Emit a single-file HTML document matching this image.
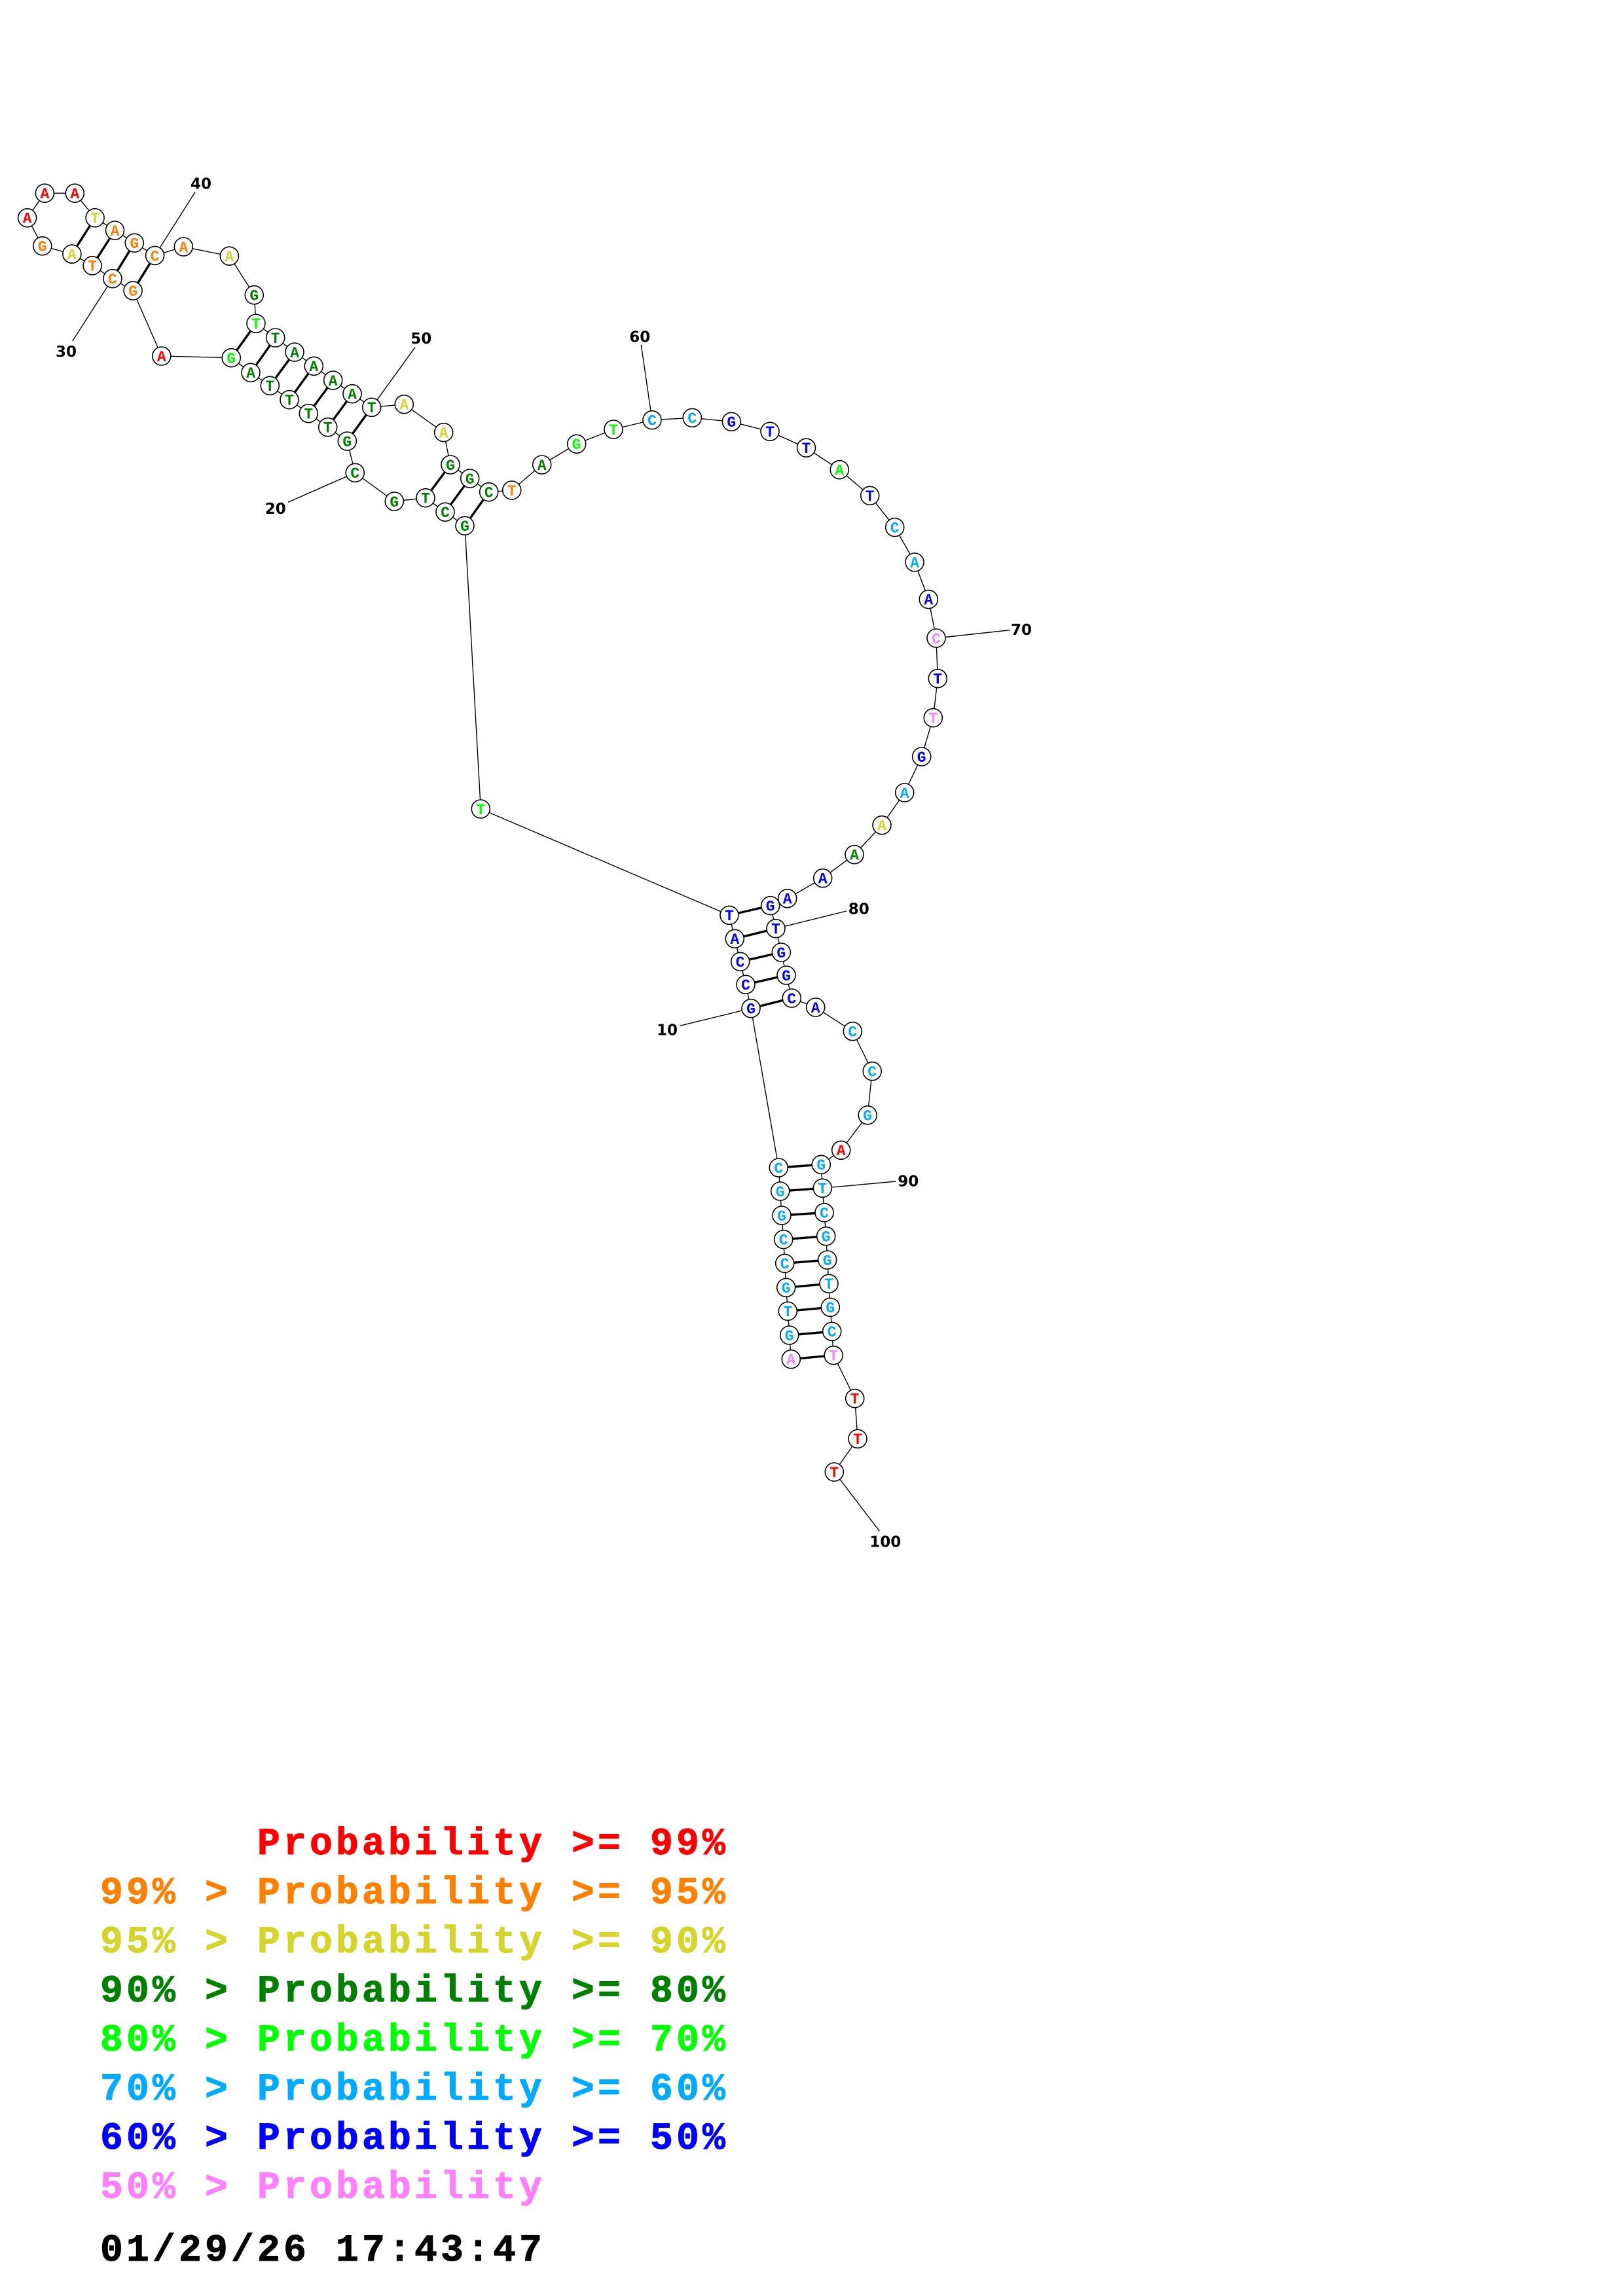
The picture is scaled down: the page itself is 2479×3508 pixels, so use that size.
<!DOCTYPE html>
<html>
<head>
<meta charset="utf-8">
<style>
html,body{margin:0;padding:0;background:#fff;}
svg{display:block;}
.nt text{font-family:"Liberation Mono","DejaVu Sans Mono",monospace;font-weight:bold;font-size:23px;text-anchor:middle;}
.lbl text{font-family:"DejaVu Sans","Liberation Sans",sans-serif;font-weight:bold;font-size:23px;text-anchor:middle;fill:#000;}
.leg text{font-family:"Liberation Mono","DejaVu Sans Mono",monospace;font-weight:bold;font-size:58px;letter-spacing:5.2px;stroke-width:1px;}
</style>
</head>
<body>
<svg xmlns="http://www.w3.org/2000/svg" width="2479" height="3508" viewBox="0 0 2479 3508">
<rect width="2479" height="3508" fill="#fff"/>
<!-- backbone -->
<polyline fill="none" stroke="#000" stroke-width="1.4" points="1208.3,2076.7 1205.7,2040 1203.3,2003.3 1200.7,1967.3 1198.7,1930.3 1196.7,1893.7 1194,1857 1191.7,1820 1189.3,1784 1147,1540.7 1139,1504.3 1130.7,1469.3 1122.3,1434.3 1114,1398.3 734.3,1236 710,803.3 680,782.3 650,760.7 602.3,766 542.3,722.3 530.3,674 500.7,652.7 471.3,631.7 442,610.7 412.3,589.3 383,569.3 353.3,546.7 246.8,544 203.1,444.2 171.9,425.7 141.1,405.8 109.9,388.1 64.8,375.8 41.6,332.8 68.4,295.2 114.3,295.2 145.1,332.8 175.5,352 205.3,371.2 236.6,390.4 280.3,377 350.4,391.2 388.3,450.7 391,494.3 420.7,516 450,538 479.3,559.3 508.7,581 538,601.7 567.7,622.3 617.3,617.7 677.7,660.7 688,710 717.7,731 746.7,751.7 781.7,749 827.7,710 880.7,678.3 937,656 996,641.7 1057.3,638.3 1117.3,644.3 1176,659.3 1231.5,684.2 1282.3,717.7 1328.7,757.3 1366.7,805.7 1397,859 1418.3,915.7 1430,975 1432.3,1036.7 1425.3,1096.7 1407.7,1156 1381.7,1211 1347,1260.7 1305,1305.7 1256.7,1341.7 1202.7,1372.7 1176.7,1383.7 1185,1418.7 1193.3,1455 1201,1490 1209.3,1525 1245.7,1539 1302.3,1575.7 1332.2,1636.7 1325.2,1703.8 1284.7,1757.3 1254.3,1779.3 1256.3,1815.3 1259,1852.7 1261.7,1888.7 1263.7,1925 1266,1961.3 1268.3,1997.3 1270.7,2034.3 1273.2,2070.7 1305.7,2136.7 1310,2198.3 1274.3,2249"/>
<!-- label leader lines -->
<g stroke="#000" stroke-width="1.4">
<line x1="236.6" y1="390.4" x2="298.2" y2="293.3"/>
<line x1="171.9" y1="425.7" x2="110.8" y2="521"/>
<line x1="542.3" y1="722.3" x2="440" y2="767.3"/>
<line x1="567.7" y1="622.3" x2="634" y2="530.7"/>
<line x1="996" y1="641.7" x2="979.3" y2="526.7"/>
<line x1="1430" y1="975" x2="1542.7" y2="962.7"/>
<line x1="1185" y1="1418.7" x2="1293" y2="1392"/>
<line x1="1147" y1="1540.7" x2="1038.3" y2="1567.3"/>
<line x1="1256.3" y1="1815.3" x2="1368.3" y2="1805"/>
<line x1="1274.3" y1="2249" x2="1343.3" y2="2339.3"/>
</g>
<!-- base pairs -->
<g stroke="#000" stroke-width="3.4">
<line x1="1208.3" y1="2076.7" x2="1273.2" y2="2070.7"/>
<line x1="1205.7" y1="2040" x2="1270.7" y2="2034.3"/>
<line x1="1203.3" y1="2003.3" x2="1268.3" y2="1997.3"/>
<line x1="1200.7" y1="1967.3" x2="1266" y2="1961.3"/>
<line x1="1198.7" y1="1930.3" x2="1263.7" y2="1925"/>
<line x1="1196.7" y1="1893.7" x2="1261.7" y2="1888.7"/>
<line x1="1194" y1="1857" x2="1259" y2="1852.7"/>
<line x1="1191.7" y1="1820" x2="1256.3" y2="1815.3"/>
<line x1="1189.3" y1="1784" x2="1254.3" y2="1779.3"/>
<line x1="1147" y1="1540.7" x2="1209.3" y2="1525"/>
<line x1="1139" y1="1504.3" x2="1201" y2="1490"/>
<line x1="1130.7" y1="1469.3" x2="1193.3" y2="1455"/>
<line x1="1122.3" y1="1434.3" x2="1185" y2="1418.7"/>
<line x1="1114" y1="1398.3" x2="1176.7" y2="1383.7"/>
<line x1="710" y1="803.3" x2="746.7" y2="751.7"/>
<line x1="680" y1="782.3" x2="717.7" y2="731"/>
<line x1="650" y1="760.7" x2="688" y2="710"/>
<line x1="530.3" y1="674" x2="567.7" y2="622.3"/>
<line x1="500.7" y1="652.7" x2="538" y2="601.7"/>
<line x1="471.3" y1="631.7" x2="508.7" y2="581"/>
<line x1="442" y1="610.7" x2="479.3" y2="559.3"/>
<line x1="412.3" y1="589.3" x2="450" y2="538"/>
<line x1="383" y1="569.3" x2="420.7" y2="516"/>
<line x1="353.3" y1="546.7" x2="391" y2="494.3"/>
<line x1="203.1" y1="444.2" x2="236.6" y2="390.4"/>
<line x1="171.9" y1="425.7" x2="205.3" y2="371.2"/>
<line x1="141.1" y1="405.8" x2="175.5" y2="352"/>
<line x1="109.9" y1="388.1" x2="145.1" y2="332.8"/>
</g>
<!-- nucleotide circles -->
<g fill="#fff" stroke="#000" stroke-width="1.6">
<circle cx="1208.3" cy="2076.7" r="14"/>
<circle cx="1205.7" cy="2040" r="14"/>
<circle cx="1203.3" cy="2003.3" r="14"/>
<circle cx="1200.7" cy="1967.3" r="14"/>
<circle cx="1198.7" cy="1930.3" r="14"/>
<circle cx="1196.7" cy="1893.7" r="14"/>
<circle cx="1194" cy="1857" r="14"/>
<circle cx="1191.7" cy="1820" r="14"/>
<circle cx="1189.3" cy="1784" r="14"/>
<circle cx="1147" cy="1540.7" r="14"/>
<circle cx="1139" cy="1504.3" r="14"/>
<circle cx="1130.7" cy="1469.3" r="14"/>
<circle cx="1122.3" cy="1434.3" r="14"/>
<circle cx="1114" cy="1398.3" r="14"/>
<circle cx="734.3" cy="1236" r="14"/>
<circle cx="710" cy="803.3" r="14"/>
<circle cx="680" cy="782.3" r="14"/>
<circle cx="650" cy="760.7" r="14"/>
<circle cx="602.3" cy="766" r="14"/>
<circle cx="542.3" cy="722.3" r="14"/>
<circle cx="530.3" cy="674" r="14"/>
<circle cx="500.7" cy="652.7" r="14"/>
<circle cx="471.3" cy="631.7" r="14"/>
<circle cx="442" cy="610.7" r="14"/>
<circle cx="412.3" cy="589.3" r="14"/>
<circle cx="383" cy="569.3" r="14"/>
<circle cx="353.3" cy="546.7" r="14"/>
<circle cx="246.8" cy="544" r="14"/>
<circle cx="203.1" cy="444.2" r="14"/>
<circle cx="171.9" cy="425.7" r="14"/>
<circle cx="141.1" cy="405.8" r="14"/>
<circle cx="109.9" cy="388.1" r="14"/>
<circle cx="64.8" cy="375.8" r="14"/>
<circle cx="41.6" cy="332.8" r="14"/>
<circle cx="68.4" cy="295.2" r="14"/>
<circle cx="114.3" cy="295.2" r="14"/>
<circle cx="145.1" cy="332.8" r="14"/>
<circle cx="175.5" cy="352" r="14"/>
<circle cx="205.3" cy="371.2" r="14"/>
<circle cx="236.6" cy="390.4" r="14"/>
<circle cx="280.3" cy="377" r="14"/>
<circle cx="350.4" cy="391.2" r="14"/>
<circle cx="388.3" cy="450.7" r="14"/>
<circle cx="391" cy="494.3" r="14"/>
<circle cx="420.7" cy="516" r="14"/>
<circle cx="450" cy="538" r="14"/>
<circle cx="479.3" cy="559.3" r="14"/>
<circle cx="508.7" cy="581" r="14"/>
<circle cx="538" cy="601.7" r="14"/>
<circle cx="567.7" cy="622.3" r="14"/>
<circle cx="617.3" cy="617.7" r="14"/>
<circle cx="677.7" cy="660.7" r="14"/>
<circle cx="688" cy="710" r="14"/>
<circle cx="717.7" cy="731" r="14"/>
<circle cx="746.7" cy="751.7" r="14"/>
<circle cx="781.7" cy="749" r="14"/>
<circle cx="827.7" cy="710" r="14"/>
<circle cx="880.7" cy="678.3" r="14"/>
<circle cx="937" cy="656" r="14"/>
<circle cx="996" cy="641.7" r="14"/>
<circle cx="1057.3" cy="638.3" r="14"/>
<circle cx="1117.3" cy="644.3" r="14"/>
<circle cx="1176" cy="659.3" r="14"/>
<circle cx="1231.5" cy="684.2" r="14"/>
<circle cx="1282.3" cy="717.7" r="14"/>
<circle cx="1328.7" cy="757.3" r="14"/>
<circle cx="1366.7" cy="805.7" r="14"/>
<circle cx="1397" cy="859" r="14"/>
<circle cx="1418.3" cy="915.7" r="14"/>
<circle cx="1430" cy="975" r="14"/>
<circle cx="1432.3" cy="1036.7" r="14"/>
<circle cx="1425.3" cy="1096.7" r="14"/>
<circle cx="1407.7" cy="1156" r="14"/>
<circle cx="1381.7" cy="1211" r="14"/>
<circle cx="1347" cy="1260.7" r="14"/>
<circle cx="1305" cy="1305.7" r="14"/>
<circle cx="1256.7" cy="1341.7" r="14"/>
<circle cx="1202.7" cy="1372.7" r="14"/>
<circle cx="1176.7" cy="1383.7" r="14"/>
<circle cx="1185" cy="1418.7" r="14"/>
<circle cx="1193.3" cy="1455" r="14"/>
<circle cx="1201" cy="1490" r="14"/>
<circle cx="1209.3" cy="1525" r="14"/>
<circle cx="1245.7" cy="1539" r="14"/>
<circle cx="1302.3" cy="1575.7" r="14"/>
<circle cx="1332.2" cy="1636.7" r="14"/>
<circle cx="1325.2" cy="1703.8" r="14"/>
<circle cx="1284.7" cy="1757.3" r="14"/>
<circle cx="1254.3" cy="1779.3" r="14"/>
<circle cx="1256.3" cy="1815.3" r="14"/>
<circle cx="1259" cy="1852.7" r="14"/>
<circle cx="1261.7" cy="1888.7" r="14"/>
<circle cx="1263.7" cy="1925" r="14"/>
<circle cx="1266" cy="1961.3" r="14"/>
<circle cx="1268.3" cy="1997.3" r="14"/>
<circle cx="1270.7" cy="2034.3" r="14"/>
<circle cx="1273.2" cy="2070.7" r="14"/>
<circle cx="1305.7" cy="2136.7" r="14"/>
<circle cx="1310" cy="2198.3" r="14"/>
<circle cx="1274.3" cy="2249" r="14"/>
</g>
<!-- nucleotide letters -->
<g class="nt" transform="translate(0,0.6)">
<text x="1208.3" y="2084.0" fill="#ff80ff">A</text>
<text x="1205.7" y="2047.3" fill="#00aaff">G</text>
<text x="1203.3" y="2010.6" fill="#00aaff">T</text>
<text x="1200.7" y="1974.6" fill="#00aaff">G</text>
<text x="1198.7" y="1937.6" fill="#00aaff">C</text>
<text x="1196.7" y="1901.0" fill="#00aaff">C</text>
<text x="1194" y="1864.3" fill="#00aaff">G</text>
<text x="1191.7" y="1827.3" fill="#00aaff">G</text>
<text x="1189.3" y="1791.3" fill="#00aaff">C</text>
<text x="1147" y="1548.0" fill="#0000ff">G</text>
<text x="1139" y="1511.6" fill="#0000ff">C</text>
<text x="1130.7" y="1476.6" fill="#0000ff">C</text>
<text x="1122.3" y="1441.6" fill="#0000ff">A</text>
<text x="1114" y="1405.6" fill="#0000ff">T</text>
<text x="734.3" y="1243.3" fill="#00ff00">T</text>
<text x="710" y="810.6" fill="#008000">G</text>
<text x="680" y="789.6" fill="#008000">C</text>
<text x="650" y="768.0" fill="#008000">T</text>
<text x="602.3" y="773.3" fill="#008000">G</text>
<text x="542.3" y="729.6" fill="#008000">C</text>
<text x="530.3" y="681.3" fill="#008000">G</text>
<text x="500.7" y="660.0" fill="#008000">T</text>
<text x="471.3" y="639.0" fill="#008000">T</text>
<text x="442" y="618.0" fill="#008000">T</text>
<text x="412.3" y="596.6" fill="#008000">T</text>
<text x="383" y="576.6" fill="#008000">A</text>
<text x="353.3" y="554.0" fill="#00ff00">G</text>
<text x="246.8" y="551.3" fill="#ff0000">A</text>
<text x="203.1" y="451.5" fill="#ff8000">G</text>
<text x="171.9" y="433.0" fill="#ff8000">C</text>
<text x="141.1" y="413.1" fill="#ff8000">T</text>
<text x="109.9" y="395.4" fill="#d4d42a">A</text>
<text x="64.8" y="383.1" fill="#ff8000">G</text>
<text x="41.6" y="340.1" fill="#ff0000">A</text>
<text x="68.4" y="302.5" fill="#ff0000">A</text>
<text x="114.3" y="302.5" fill="#ff0000">A</text>
<text x="145.1" y="340.1" fill="#d4d42a">T</text>
<text x="175.5" y="359.3" fill="#ff8000">A</text>
<text x="205.3" y="378.5" fill="#ff8000">G</text>
<text x="236.6" y="397.7" fill="#ff8000">C</text>
<text x="280.3" y="384.3" fill="#ff8000">A</text>
<text x="350.4" y="398.5" fill="#d4d42a">A</text>
<text x="388.3" y="458.0" fill="#008000">G</text>
<text x="391" y="501.6" fill="#00ff00">T</text>
<text x="420.7" y="523.3" fill="#008000">T</text>
<text x="450" y="545.3" fill="#008000">A</text>
<text x="479.3" y="566.6" fill="#008000">A</text>
<text x="508.7" y="588.3" fill="#008000">A</text>
<text x="538" y="609.0" fill="#008000">A</text>
<text x="567.7" y="629.6" fill="#008000">T</text>
<text x="617.3" y="625.0" fill="#d4d42a">A</text>
<text x="677.7" y="668.0" fill="#d4d42a">A</text>
<text x="688" y="717.3" fill="#008000">G</text>
<text x="717.7" y="738.3" fill="#008000">G</text>
<text x="746.7" y="759.0" fill="#008000">C</text>
<text x="781.7" y="756.3" fill="#ff8000">T</text>
<text x="827.7" y="717.3" fill="#008000">A</text>
<text x="880.7" y="685.6" fill="#00ff00">G</text>
<text x="937" y="663.3" fill="#00ff00">T</text>
<text x="996" y="649.0" fill="#00aaff">C</text>
<text x="1057.3" y="645.6" fill="#00aaff">C</text>
<text x="1117.3" y="651.6" fill="#0000ff">G</text>
<text x="1176" y="666.6" fill="#0000ff">T</text>
<text x="1231.5" y="691.5" fill="#0000ff">T</text>
<text x="1282.3" y="725.0" fill="#00ff00">A</text>
<text x="1328.7" y="764.6" fill="#0000ff">T</text>
<text x="1366.7" y="813.0" fill="#00aaff">C</text>
<text x="1397" y="866.3" fill="#00aaff">A</text>
<text x="1418.3" y="923.0" fill="#0000ff">A</text>
<text x="1430" y="982.3" fill="#ff80ff">C</text>
<text x="1432.3" y="1044.0" fill="#0000ff">T</text>
<text x="1425.3" y="1104.0" fill="#ff80ff">T</text>
<text x="1407.7" y="1163.3" fill="#0000ff">G</text>
<text x="1381.7" y="1218.3" fill="#00aaff">A</text>
<text x="1347" y="1268.0" fill="#d4d42a">A</text>
<text x="1305" y="1313.0" fill="#008000">A</text>
<text x="1256.7" y="1349.0" fill="#0000ff">A</text>
<text x="1202.7" y="1380.0" fill="#0000ff">A</text>
<text x="1176.7" y="1391.0" fill="#0000ff">G</text>
<text x="1185" y="1426.0" fill="#0000ff">T</text>
<text x="1193.3" y="1462.3" fill="#0000ff">G</text>
<text x="1201" y="1497.3" fill="#0000ff">G</text>
<text x="1209.3" y="1532.3" fill="#0000ff">C</text>
<text x="1245.7" y="1546.3" fill="#0000ff">A</text>
<text x="1302.3" y="1583.0" fill="#00aaff">C</text>
<text x="1332.2" y="1644.0" fill="#00aaff">C</text>
<text x="1325.2" y="1711.1" fill="#00aaff">G</text>
<text x="1284.7" y="1764.6" fill="#ff0000">A</text>
<text x="1254.3" y="1786.6" fill="#00aaff">G</text>
<text x="1256.3" y="1822.6" fill="#00aaff">T</text>
<text x="1259" y="1860.0" fill="#00aaff">C</text>
<text x="1261.7" y="1896.0" fill="#00aaff">G</text>
<text x="1263.7" y="1932.3" fill="#00aaff">G</text>
<text x="1266" y="1968.6" fill="#00aaff">T</text>
<text x="1268.3" y="2004.6" fill="#00aaff">G</text>
<text x="1270.7" y="2041.6" fill="#00aaff">C</text>
<text x="1273.2" y="2078.0" fill="#ff80ff">T</text>
<text x="1305.7" y="2144.0" fill="#ff0000">T</text>
<text x="1310" y="2205.6" fill="#ff0000">T</text>
<text x="1274.3" y="2256.3" fill="#ff0000">T</text>
</g>
<!-- number labels -->
<g class="lbl">
<text x="307" y="288.4">40</text>
<text x="101" y="545">30</text>
<text x="420.7" y="785">20</text>
<text x="643.3" y="525">50</text>
<text x="977.3" y="522.7">60</text>
<text x="1560" y="970">70</text>
<text x="1311.7" y="1396.7">80</text>
<text x="1019" y="1581.7">10</text>
<text x="1387.3" y="1812.7">90</text>
<text x="1352.3" y="2363.4">100</text>
</g>
<!-- legend -->
<g class="leg">
<g fill="#ff0000" stroke="#ff0000">
<text x="393" y="2833">Probability</text>
<text x="873" y="2833">&gt;=</text>
<text x="993" y="2833">99%</text>
</g>
<g fill="#ff8000" stroke="#ff8000">
<text x="153" y="2908">99%</text>
<text x="313" y="2908">&gt;</text>
<text x="393" y="2908">Probability</text>
<text x="873" y="2908">&gt;=</text>
<text x="993" y="2908">95%</text>
</g>
<g fill="#d4d42a" stroke="#d4d42a">
<text x="153" y="2983">95%</text>
<text x="313" y="2983">&gt;</text>
<text x="393" y="2983">Probability</text>
<text x="873" y="2983">&gt;=</text>
<text x="993" y="2983">90%</text>
</g>
<g fill="#008000" stroke="#008000">
<text x="153" y="3058">90%</text>
<text x="313" y="3058">&gt;</text>
<text x="393" y="3058">Probability</text>
<text x="873" y="3058">&gt;=</text>
<text x="993" y="3058">80%</text>
</g>
<g fill="#00ff00" stroke="#00ff00">
<text x="153" y="3133">80%</text>
<text x="313" y="3133">&gt;</text>
<text x="393" y="3133">Probability</text>
<text x="873" y="3133">&gt;=</text>
<text x="993" y="3133">70%</text>
</g>
<g fill="#00aaff" stroke="#00aaff">
<text x="153" y="3208">70%</text>
<text x="313" y="3208">&gt;</text>
<text x="393" y="3208">Probability</text>
<text x="873" y="3208">&gt;=</text>
<text x="993" y="3208">60%</text>
</g>
<g fill="#0000ff" stroke="#0000ff">
<text x="153" y="3283">60%</text>
<text x="313" y="3283">&gt;</text>
<text x="393" y="3283">Probability</text>
<text x="873" y="3283">&gt;=</text>
<text x="993" y="3283">50%</text>
</g>
<g fill="#ff80ff" stroke="#ff80ff">
<text x="153" y="3358">50%</text>
<text x="313" y="3358">&gt;</text>
<text x="393" y="3358">Probability</text>
</g>
<g fill="#000000" stroke="#000000">
<text x="153" y="3454">01/29/26</text>
<text x="513" y="3454">17:43:47</text>
</g>
</g>
</svg>
</body>
</html>
